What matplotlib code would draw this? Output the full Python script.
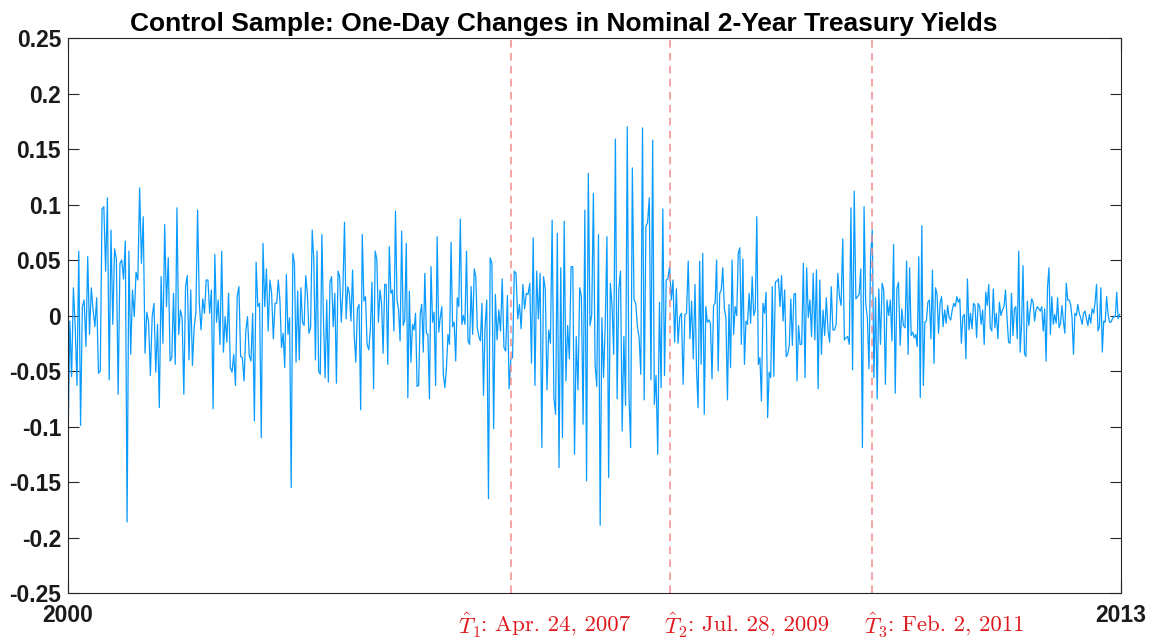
import numpy as np
import matplotlib
matplotlib.use("Agg")
import matplotlib.pyplot as plt
from matplotlib.ticker import FuncFormatter

plt.rcParams['font.family'] = ['Liberation Sans', 'DejaVu Sans']
plt.rcParams['mathtext.fontset'] = 'cm'
plt.rcParams['axes.unicode_minus'] = False

# one-day changes (sample runs 2000 -> 2013)
chunk01 = [-0.116, -0.005, -0.055, 0.025, -0.01, -0.063, 0.058, -0.099, 0.008, 0.014, -0.028, 0.053, -0.017, 0.025,
           0.005, -0.01, 0.016, -0.052, -0.05, 0.096, 0.098, 0.04, 0.106, -0.058, 0.077, -0.008, 0.06, 0.051, -0.071,
           0.047, 0.05, 0.033, 0.067, -0.186, 0.058, -0.035, 0.023, -0.001, 0.039, 0.032, 0.115, 0.047, 0.089, -0.034,
           0.003, -0.006, -0.054, -0.001, 0.011, -0.051, -0.008, -0.083, 0.035, -0.025, 0.082, 0.008, 0.052]
chunk02 = [-0.041, -0.038, 0.02, -0.044, 0.097, -0.017, 0.005, -0.002, -0.071, 0.026, 0.036, -0.04, 0.023, -0.045,
           -0.011, 0.003, 0.095, 0.011, -0.013, 0.015, 0.002, 0.032, 0.032, 0.002, 0.023, -0.084, 0.055, -0.006, 0.014,
           -0.026, 0.058, -0.033, -0.001, -0.024, 0.02, -0.047, -0.051, -0.035, -0.063, 0.017, 0.026, -0.037, -0.038,
           -0.059, -0.014, -0.001, -0.036, -0.041, 0.002, -0.095, 0.048, 0.008, 0.011, -0.11, 0.065, 0.008, 0.042,
           -0.014, 0.032, 0.02, -0.021]
chunk03 = [0.011, 0.011, 0.032, 0.014, -0.029, -0.016, -0.047, 0.037, -0.017, -0.002, -0.155, 0.056, 0.047, -0.042,
           0.022, -0.04, 0.025, -0.006, -0.009, 0.036, 0.02, -0.016, -0.011, 0.077, 0.05, -0.04, 0.058, -0.05, -0.053,
           0.073, -0.005, -0.056, 0.014, -0.06, 0.03, 0.035, -0.01, 0.02, -0.061, 0.04, 0.035, -0.006, 0.023, 0.084,
           -0.003, 0.026, 0.02, -0.005, 0.041, -0.018, -0.042, 0.006, 0.01, -0.085, 0.073, 0.013, 0.017, -0.026, -0.031,
           -0.013, 0.03, -0.066, 0.058, 0.051, -0.006]
chunk04 = [0.023, 0.011, -0.034, 0.028, 0.028, -0.044, 0.062, 0.02, 0.023, -0.014, 0.094, 0.014, 0.005, -0.023, 0.076,
           -0.009, -0.004, 0.065, -0.074, 0.022, -0.042, -0.008, -0.013, 0.002, -0.064, -0.063, 0.001, 0.01, -0.033,
           0.038, -0.016, -0.017, -0.075, 0.044, -0.006, 0.003, -0.063, 0.071, -0.015, -0.002, 0.008, -0.053, -0.065,
           -0.048, -0.017, -0.026, 0.066, -0.01, -0.006, -0.041, 0.016, 0.008, 0.087, -0.008, 0.0, -0.008, 0.058,
           -0.023, -0.026, 0.026, -0.017, 0.042, 0.035, -0.011, -0.019, -0.023, 0.011, -0.072]
chunk05 = [-0.011, 0.014, -0.165, 0.052, 0.047, -0.102, 0.019, -0.022, 0.005, -0.014, 0.033, -0.029, -0.032, 0.018,
           -0.066, -0.039, -0.038, 0.04, 0.038, -0.003, 0.01, -0.012, 0.028, 0.006, 0.02, 0.019, 0.029, -0.043, 0.07,
           -0.063, 0.04, -0.003, 0.038, -0.119, 0.035, 0.024, -0.067, -0.013, -0.025, 0.086, -0.074, -0.089, 0.074,
           -0.137, 0.043, -0.11, 0.085, -0.059, -0.009, -0.039, 0.044, 0.044, -0.125, -0.019, -0.067, 0.025, 0.017,
           -0.098, 0.095, -0.149, 0.128]
chunk06 = [-0.009, 0.0, 0.11, -0.044, -0.064, 0.073, -0.189, -0.002, -0.056, -0.008, 0.071, -0.146, 0.029, 0.009,
           -0.035, 0.159, -0.075, 0.023, 0.04, -0.104, -0.019, -0.081, 0.17, -0.071, -0.119, 0.133, 0.014, 0.011, -0.01,
           -0.02, -0.053, 0.169, -0.076, 0.08, 0.084, 0.106, -0.058, 0.158, -0.08, -0.054, -0.125, 0.012, -0.065, 0.096,
           -0.054, 0.032, 0.033, 0.044, 0.014, 0.032, -0.024, 0.024, -0.025, -0.001, 0.002, -0.062, 0.001, 0.002, 0.049,
           -0.021, 0.013, -0.039]
chunk07 = [0.028, -0.049, -0.083, 0.049, -0.044, 0.056, -0.089, 0.008, -0.006, -0.004, -0.007, -0.057, 0.009, 0.011,
           0.05, -0.05, 0.02, 0.023, 0.043, 0.006, -0.002, -0.076, 0.01, -0.047, 0.05, -0.017, 0.008, 0.0, 0.056, 0.061,
           -0.026, 0.051, -0.044, -0.005, -0.008, 0.02, -0.007, 0.035, 0.0, 0.005, 0.089, -0.044, -0.038, -0.077, 0.011,
           0.002, 0.021, -0.092, -0.051, -0.056, 0.026, -0.055, 0.03, 0.031, 0.033, 0.008, 0.036, -0.005, 0.023, -0.037,
           -0.035, -0.027, 0.015, -0.027, 0.019, 0.02, -0.059, -0.009]
chunk08 = [-0.026, -0.026, 0.047, -0.056, 0.043, -0.002, 0.014, -0.019, 0.038, -0.022, 0.041, -0.066, 0.032, -0.035,
           0.005, -0.018, 0.016, -0.013, -0.024, 0.026, -0.013, -0.013, -0.008, 0.038, 0.017, 0.009, 0.069, -0.022,
           -0.02, -0.019, -0.026, 0.097, -0.049, 0.112, 0.015, 0.017, 0.019, 0.042, -0.119, 0.098, 0.011, -0.002,
           -0.048, 0.054, 0.077, -0.056, 0.016, -0.075, 0.024, -0.026, 0.029, 0.023, -0.062, 0.014, 0.0, 0.014, -0.023,
           0.064, -0.07, 0.024, 0.03, -0.027, 0.006, -0.009]
chunk09 = [-0.011, 0.049, -0.035, 0.043, -0.018, -0.015, -0.02, -0.017, -0.028, 0.053, -0.074, 0.081, -0.063, -0.006,
           -0.005, 0.012, 0.014, -0.021, 0.041, -0.043, 0.025, 0.019, -0.016, 0.011, 0.017, -0.01, 0.005, -0.007, 0.009,
           -0.002, -0.004, 0.005, 0.011, 0.008, 0.017, 0.012, 0.015, -0.025, -0.001, 0.001, -0.039, 0.033, -0.013,
           0.002, -0.012, 0.011, 0.009, -0.02, 0.011, 0.008, -0.008, 0.005, -0.026, 0.021, 0.009, 0.028, -0.011, -0.014,
           0.024, -0.011, 0.002, -0.021, 0.012, 0.0, 0.005, 0.008, 0.023, -0.002, -0.024]
chunk10 = [-0.025, 0.02, -0.018, 0.006, 0.008, -0.021, 0.058, -0.033, -0.008, 0.045, -0.034, -0.037, 0.013, -0.009,
           0.005, 0.015, 0.012, -0.005, 0.005, 0.008, 0.006, 0.004, 0.008, -0.014, 0.006, -0.041, 0.026, 0.043, -0.017,
           0.017, -0.008, 0.001, -0.007, 0.016, -0.011, -0.007, 0.009, -0.005, -0.016, 0.029, 0.014, 0.014, 0.01,
           -0.002, -0.035, 0.002, 0.0, 0.01, 0.002, -0.002, -0.008, 0.002, 0.004, -0.003, -0.009, 0.001, -0.007, 0.006,
           0.002, 0.012, 0.028, -0.014, -0.01, 0.025, -0.033, -0.005, -0.006, 0.017, 0.001, -0.006, -0.006, -0.003,
           -0.001, -0.001, 0.021, -0.003, 0.001]
chunks = [chunk01, chunk02, chunk03, chunk04, chunk05, chunk06, chunk07, chunk08, chunk09, chunk10]
# where each chunk starts/ends, as share of the sample
chunk_edges = [0.0, 0.0969, 0.1966, 0.2963, 0.3960, 0.4957, 0.5954, 0.6952, 0.7949, 0.8946, 1.0]

# estimated break dates (share of sample) and their labels
break_pos = [0.4207, 0.5717, 0.7635]
break_sub = [r'$\hat{T}_1$', r'$\hat{T}_2$', r'$\hat{T}_3$']
break_dates = [': Apr. 24, 2007', ': Jul. 28, 2009', ': Feb. 2, 2011']
label_pos = [0.3704, 0.5660, 0.7560]

yticks = [-0.25, -0.2, -0.15, -0.1, -0.05, 0, 0.05, 0.1, 0.15, 0.2, 0.25]
end_labels = ['2000', '2013']

x = np.concatenate([np.linspace(a, b, len(c), endpoint=False)
                    for a, b, c in zip(chunk_edges[:-1], chunk_edges[1:], chunks)])
y = np.concatenate(chunks)

fig = plt.figure(figsize=(11.55, 6.42), dpi=100)
ax = fig.add_axes([0.0589, 0.0763, 0.9117, 0.8645])

ax.plot(x, y, color='#0A9BFF', lw=0.9)
for b in break_pos:
    ax.axvline(b, color='#F28B8B', lw=1.1, ls=(0, (5, 3.5)))

ax.set_xlim(0, 1)
ax.set_ylim(-0.25, 0.25)
ax.set_xticks([0, 1])
ax.set_xticklabels(end_labels)
ax.set_yticks(yticks)
ax.yaxis.set_major_formatter(FuncFormatter(lambda v, p: '%g' % round(v, 2)))
ax.tick_params(direction='in', length=8, width=0.8, colors='#262626', labelsize=16.5,
               top=True, right=True, pad=5)
ax.tick_params(axis='x', pad=8)
for lab in ax.get_xticklabels() + ax.get_yticklabels():
    lab.set_fontweight('bold')
    lab.set_color('#1a1a1a')
for s in ax.spines.values():
    s.set_color('#262626')
    s.set_linewidth(0.8)

# break labels: hat-T in math, the date in Computer Modern roman
fig.canvas.draw()
rend = fig.canvas.get_renderer()
for lx, sub, dt in zip(label_pos, break_sub, break_dates):
    t1 = ax.text(lx, -0.058, sub, transform=ax.transAxes, color='#E0191E', fontsize=16.5,
                 ha='left', va='center')
    bb = t1.get_window_extent(rend).transformed(ax.transAxes.inverted())
    ax.text(bb.x1, -0.058, dt, transform=ax.transAxes, color='#E0191E', fontsize=16.5,
            family='cmr10', ha='left', va='center')

ax.set_title('Control Sample: One-Day Changes in Nominal 2-Year Treasury Yields',
             fontsize=19, fontweight='bold', pad=5, x=0.471)

fig.savefig('out.png', dpi=100)
